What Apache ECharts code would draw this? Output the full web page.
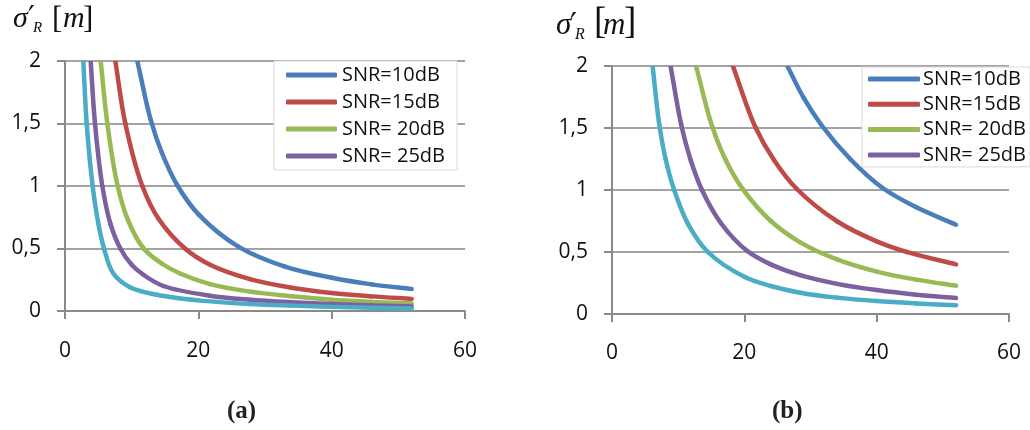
<!DOCTYPE html>
<html><head><meta charset="utf-8">
<script src="https://cdn.jsdelivr.net/npm/echarts@6/dist/echarts.min.js"></script>
<style>html,body{margin:0;padding:0;background:#fff}#c{width:1030px;height:430px}</style>
</head><body><div id="c"></div><script>
// ---------- data ----------
const seriesNames = ['SNR=10dB', 'SNR=15dB', 'SNR= 20dB', 'SNR= 25dB', 'SNR=30dB'];
const legendNames = ['SNR=10dB', 'SNR=15dB', 'SNR= 20dB', 'SNR= 25dB'];
const xTickValues = [0, 20, 40, 60];
const yTickValues = [0, 0.5, 1, 1.5, 2];
const panelCaptions = ['(a)', '(b)'];

// chart (a)
const blueA_x   = [10.85, 12.85, 14.5, 16.8, 20, 26, 33, 40, 46, 52];
const blueA_y   = [2, 1.53, 1.27, 1.01, 0.775, 0.515, 0.355, 0.266, 0.213, 0.177];
const redA_x    = [7.55, 9.05, 11.6, 14, 18, 21.75, 27.75, 34, 40, 46, 52];
const redA_y    = [2, 1.5, 1, 0.74, 0.5, 0.37, 0.255, 0.186, 0.144, 0.117, 0.097];
const greenA_x  = [5.35, 6.35, 7.9, 9.5, 11.8, 14.5, 17.25, 21.75, 27.75, 34, 40, 46, 52];
const greenA_y  = [2, 1.5, 1, 0.72, 0.5, 0.38, 0.3, 0.215, 0.155, 0.118, 0.09, 0.073, 0.06];
const purpleA_x = [3.85, 4.5, 5.6, 6.8, 8.3, 10, 11.75, 14.75, 21.75, 27.75, 34, 40, 46, 52];
const purpleA_y = [2, 1.5, 1, 0.7, 0.5, 0.37, 0.29, 0.2, 0.122, 0.09, 0.07, 0.056, 0.045, 0.037];
const cyanA_x   = [2.75, 3.25, 4.15, 5, 5.85, 7.25, 9.75, 13.75, 20, 27.75, 34, 40, 46, 52];
const cyanA_y   = [2, 1.5, 1, 0.7, 0.5, 0.3, 0.19, 0.13, 0.085, 0.056, 0.043, 0.033, 0.026, 0.021];

// chart (b)
const blueB_x   = [26.5, 29, 31.7, 36, 40.8, 46, 52];
const blueB_y   = [2, 1.74, 1.52, 1.25, 1.02, 0.86, 0.72];
const redB_x    = [18.27, 21.64, 24.5, 27.9, 34, 40, 44.5, 52];
const redB_y    = [2, 1.51, 1.24, 1.01, 0.748, 0.586, 0.501, 0.4];
const greenB_x  = [12.7, 15.1, 17.2, 19.8, 24, 28.45, 34, 40, 46, 52];
const greenB_y  = [2, 1.52, 1.24, 1.005, 0.75, 0.578, 0.44, 0.342, 0.277, 0.228];
const purpleB_x = [8.85, 10.45, 11.9, 13.6, 16.5, 20.4, 24, 28.45, 34, 40, 46, 52];
const purpleB_y = [2, 1.53, 1.24, 1, 0.73, 0.51, 0.4, 0.313, 0.243, 0.193, 0.156, 0.129];
const cyanB_x   = [6.14, 7.14, 8.1, 9.4, 11.5, 14.45, 20, 24, 28.45, 34, 40, 46, 52];
const cyanB_y   = [2, 1.53, 1.25, 1, 0.725, 0.502, 0.3, 0.226, 0.172, 0.132, 0.104, 0.085, 0.07];

// ---------- build ----------
const colors = ['#4A7EBB', '#BE4B48', '#98B954', '#7D60A0', '#4BACC6'];
const zip = (xs, ys) => xs.map((x, i) => [x, ys[i]]);
const chartA = [zip(blueA_x, blueA_y), zip(redA_x, redA_y), zip(greenA_x, greenA_y), zip(purpleA_x, purpleA_y), zip(cyanA_x, cyanA_y)];
const chartB = [zip(blueB_x, blueB_y), zip(redB_x, redB_y), zip(greenB_x, greenB_y), zip(purpleB_x, purpleB_y), zip(cyanB_x, cyanB_y)];

const gridLine = '#a3a3a3';
const axisLine = '#8a8a8a';
const labelFont = { fontFamily: 'Open Sans', fontSize: 21, color: '#111' };

function xAxis(gi, margin) {
  return {
    type: 'value', gridIndex: gi, min: xTickValues[0], max: xTickValues[xTickValues.length - 1],
    interval: xTickValues[1] - xTickValues[0],
    axisLine: { show: true, onZero: false, lineStyle: { color: axisLine, width: 2 } },
    axisTick: { show: true, length: 8, lineStyle: { color: axisLine, width: 2 } },
    splitLine: { show: false },
    axisLabel: Object.assign({ margin: margin }, labelFont)
  };
}
function yAxis(gi) {
  return {
    type: 'value', gridIndex: gi, min: yTickValues[0], max: yTickValues[yTickValues.length - 1],
    interval: yTickValues[1] - yTickValues[0],
    axisLine: { show: true, lineStyle: { color: axisLine, width: 2 } },
    axisTick: { show: true, length: 8, lineStyle: { color: axisLine, width: 2 } },
    splitLine: { show: true, lineStyle: { color: gridLine, width: 2 } },
    axisLabel: Object.assign({ margin: 24, formatter: v => String(v).replace('.', ',') }, labelFont)
  };
}
// smooth (centripetal Catmull-Rom) segment from point k to k+1, in pixel space
function segmentPath(P, k) {
  const p1 = P[k], p2 = P[k + 1];
  const p0 = k > 0 ? P[k - 1] : [2 * p1[0] - p2[0], 2 * p1[1] - p2[1]];
  const p3 = k + 2 < P.length ? P[k + 2] : [2 * p2[0] - p1[0], 2 * p2[1] - p1[1]];
  const dist = (a, b) => Math.max(1e-6, Math.pow(Math.hypot(a[0] - b[0], a[1] - b[1]), 0.5));
  const d1 = dist(p0, p1), d2 = dist(p1, p2), d3 = dist(p2, p3);
  const b1 = [0, 1].map(j => (d1 * d1 * p2[j] - d2 * d2 * p0[j] + (2 * d1 * d1 + 3 * d1 * d2 + d2 * d2) * p1[j]) / (3 * d1 * (d1 + d2)));
  const b2 = [0, 1].map(j => (d3 * d3 * p1[j] - d2 * d2 * p3[j] + (2 * d3 * d3 + 3 * d3 * d2 + d2 * d2) * p2[j]) / (3 * d3 * (d3 + d2)));
  return 'M' + p1[0] + ',' + p1[1] + 'C' + b1[0] + ',' + b1[1] + ',' + b2[0] + ',' + b2[1] + ',' + p2[0] + ',' + p2[1];
}
function mkSeries(data, gi) {
  return data.map((d, i) => ({
    type: 'custom', name: seriesNames[i], coordinateSystem: 'cartesian2d',
    xAxisIndex: gi, yAxisIndex: gi, data: d, encode: { x: 0, y: 1 },
    clip: true, silent: true, animation: false, z: 3,
    itemStyle: { color: colors[i] },
    renderItem: (params, api) => {
      const k = params.dataIndex;
      if (k >= d.length - 1) return null;
      const P = d.map(p => api.coord(p));
      return {
        type: 'path', shape: { pathData: segmentPath(P, k) },
        style: { fill: 'none', stroke: colors[i], lineWidth: 4.5, lineCap: 'round', lineJoin: 'round' }
      };
    }
  }));
}
function legend(left, top, padding, gap, itemW, textPad) {
  return {
    data: legendNames.map(n => ({ name: n, icon: 'roundRect' })), orient: 'vertical', left: left, top: top, z: 1,
    padding: padding, itemGap: gap, itemWidth: itemW, itemHeight: 5,
    backgroundColor: '#fff', borderColor: '#d9d9d9', borderWidth: 1, borderRadius: 0,
    selectedMode: false,
    textStyle: { fontFamily: 'Open Sans', fontSize: 20, color: '#111', lineHeight: 20, padding: textPad }
  };
}
function titleGraphics(o) {
  const serifI = (f) => 'italic ' + f + 'px "Liberation Serif"';
  const serif = (f) => f + 'px "Liberation Serif"';
  return [
    { type: 'text', left: o.sx, top: o.sy, style: { text: 'σ', font: serifI(o.f), fill: '#111' } },
    { type: 'text', left: o.px, top: o.py, style: { text: '′', font: o.pf + 'px "DejaVu Sans"', fill: '#111' } },
    { type: 'text', left: o.rx, top: o.ry, style: { text: 'R', font: serifI(o.rf), fill: '#111' } },
    { type: 'text', left: o.bx, top: o.by, style: { text: '[', font: serif(o.bf), fill: '#111' } },
    { type: 'text', left: o.mx, top: o.my, style: { text: 'm', font: serifI(o.f), fill: '#111' } },
    { type: 'text', left: o.ex, top: o.by, style: { text: ']', font: serif(o.bf), fill: '#111' } }
  ];
}

const option = {
  animation: false,
  backgroundColor: '#fff',
  grid: [
    { left: 65, top: 61, width: 400, height: 250, containLabel: false },
    { left: 612, top: 66, width: 397, height: 248, containLabel: false }
  ],
  xAxis: [xAxis(0, 30), xAxis(1, 29)],
  yAxis: [yAxis(0), yAxis(1)],
  legend: [
    legend(274, 61, [4, 12, 4, 12], 7, 51, [0, 0, 0, 0]),
    legend(862, 67, [2, 4, 2, 6], 5.3, 52, [0, 0, 0, -2])
  ],
  series: mkSeries(chartA, 0).concat(mkSeries(chartB, 1)),
  graphic: [].concat(
    titleGraphics({ f: 30, sx: 13, sy: 4, px: 28, py: 4, pf: 30, rx: 33, ry: 21, rf: 15, bx: 52, by: 4, bf: 31, mx: 63, my: 4, ex: 83 }),
    titleGraphics({ f: 31, sx: 556, sy: 10, px: 570, py: 10, pf: 31, rx: 575, ry: 27, rf: 16, bx: 594, by: 5, bf: 37, mx: 603, my: 10, ex: 624 }),
    [
      { type: 'text', left: 227, top: 399, style: { text: panelCaptions[0], font: 'bold 25px "Liberation Serif"', fill: '#222' } },
      { type: 'text', left: 772, top: 399, style: { text: panelCaptions[1], font: 'bold 25px "Liberation Serif"', fill: '#222' } }
    ]
  )
};
const chart = echarts.init(document.getElementById('c'), null, { renderer: 'canvas' });
chart.setOption(option);
</script></body></html>
